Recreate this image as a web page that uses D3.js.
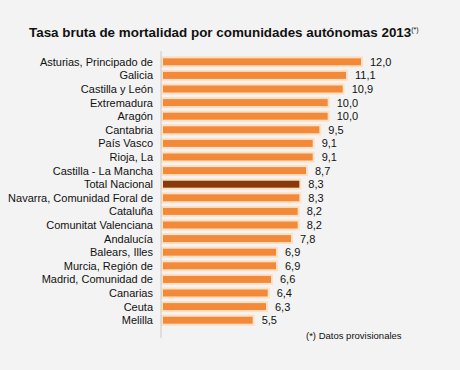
<!DOCTYPE html>
<html>
<head>
<meta charset="utf-8">
<script src="https://cdn.jsdelivr.net/npm/d3@7"></script>
<style>
  body { margin: 0; background: #f3f3f3; }
  svg { display: block; font-family: "Liberation Sans", Arial, sans-serif; }
</style>
</head>
<body>
<svg width="460" height="370"></svg>
<script>
var regions = [
  "Asturias, Principado de", "Galicia", "Castilla y León", "Extremadura", "Aragón",
  "Cantabria", "País Vasco", "Rioja, La", "Castilla - La Mancha", "Total Nacional",
  "Navarra, Comunidad Foral de", "Cataluña", "Comunitat Valenciana", "Andalucía",
  "Balears, Illes", "Murcia, Región de", "Madrid, Comunidad de", "Canarias", "Ceuta", "Melilla"
];
var rates = [12.0, 11.1, 10.9, 10.0, 10.0, 9.5, 9.1, 9.1, 8.7, 8.3,
  8.3, 8.2, 8.2, 7.8, 6.9, 6.9, 6.6, 6.4, 6.3, 5.5];
var highlight = "Total Nacional";

var svg = d3.select("svg"),
  width = +svg.attr("width"),
  height = +svg.attr("height");

svg.append("rect").attr("width", width).attr("height", height).attr("fill", "#f3f3f3");

var data = regions.map(function (r, i) { return { name: r, value: rates[i] }; });

var x = d3.scaleLinear().domain([0, 12]).range([162, 362]);
var y = d3.scaleBand().domain(regions).range([55, 327]).paddingInner(0.34).paddingOuter(0.17);

// title
var title = svg.append("text")
  .attr("x", 29)
  .attr("y", 37)
  .style("font-size", "13.4px")
  .style("font-weight", "bold")
  .attr("fill", "#111")
  .text("Tasa bruta de mortalidad por comunidades autónomas 2013");
title.append("tspan")
  .attr("dy", -5)
  .style("font-size", "7px")
  .style("font-weight", "normal")
  .text("(*)");

var bars = svg.append("g")
  .selectAll("rect")
  .data(data)
  .enter()
  .append("rect")
  .attr("x", x(0))
  .attr("y", function (d) { return y(d.name); })
  .attr("width", function (d) { return x(d.value) - x(0); })
  .attr("height", y.bandwidth())
  .attr("fill", function (d) { return d.name === highlight ? "#8a3a08" : "#f28a3a"; })
  .attr("stroke", "#fde0c4")
  .attr("stroke-width", 2);

// axis line
svg.append("line")
  .attr("x1", x(0) - 1).attr("x2", x(0) - 1)
  .attr("y1", 51).attr("y2", 338)
  .attr("stroke", "#c8c8c8")
  .attr("stroke-width", 1);

// category labels
svg.append("g")
  .selectAll("text")
  .data(data)
  .enter()
  .append("text")
  .attr("x", 153)
  .attr("y", function (d) { return y(d.name) + y.bandwidth() / 2; })
  .attr("dy", "0.36em")
  .attr("text-anchor", "end")
  .style("font-size", "11px")
  .attr("fill", "#111")
  .text(function (d) { return d.name; });

// value labels
var fmt = function (v) { return v.toFixed(1).replace(".", ","); };
svg.append("g")
  .selectAll("text")
  .data(data)
  .enter()
  .append("text")
  .attr("x", function (d) { return x(d.value) + 8; })
  .attr("y", function (d) { return y(d.name) + y.bandwidth() / 2; })
  .attr("dy", "0.36em")
  .style("font-size", "11px")
  .attr("fill", "#111")
  .text(function (d) { return fmt(d.value); });

// footnote
svg.append("text")
  .attr("x", 306)
  .attr("y", 339)
  .style("font-size", "9.5px")
  .attr("fill", "#111")
  .text("(*)  Datos provisionales");
</script>
</body>
</html>
